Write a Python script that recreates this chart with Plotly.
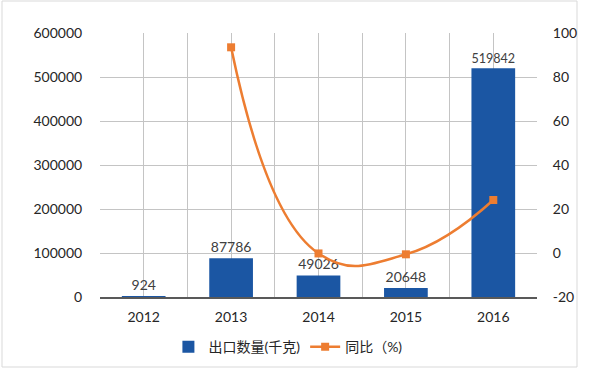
import plotly.graph_objects as go

years = ["2012", "2013", "2014", "2015", "2016"]
export_qty = [924, 87786, 49026, 20648, 519842]
yoy_years = ["2013", "2014", "2015", "2016"]
yoy = [93.5, -0.2, -0.6, 24.1]
y2_ticks = [-20, 0, 20, 40, 60, 80, 100]
y2_ticktext = ["-20", "0", "20", "40", "60", "80", "100"]

x_idx = list(range(len(years)))
yoy_idx = [years.index(y) for y in yoy_years]

FONT = "Lato, 'Noto Sans CJK SC', sans-serif"
BLUE = "#1B56A3"
ORANGE = "#ED7D31"
GRID = "#C4C4C4"

fig = go.Figure()
fig.add_trace(go.Bar(
    x=x_idx, y=export_qty, name="出口数量(千克)",
    marker=dict(color=BLUE, line=dict(width=0)),
    text=[str(v) for v in export_qty], textposition="outside",
    textfont=dict(size=14, color="#404040", family=FONT),
    cliponaxis=False, width=0.5,
))
fig.add_trace(go.Scatter(
    x=yoy_idx, y=yoy, name="同比（%)", yaxis="y2",
    mode="lines+markers",
    line=dict(color=ORANGE, width=2.5, shape="spline", smoothing=1.3),
    marker=dict(symbol="square", size=8, color=ORANGE),
))

fig.update_layout(
    width=600, height=369,
    margin=dict(l=100, r=63, t=33, b=72, autoexpand=False),
    paper_bgcolor="white", plot_bgcolor="white",
    font=dict(family=FONT, size=14, color="#262626"),
    showlegend=True,
    legend=dict(orientation="h", x=0.43, xanchor="center", y=-0.19, yanchor="middle",
                font=dict(size=14, color="#262626"), itemwidth=30),
    xaxis=dict(
        range=[-0.5, 4.5], tickvals=x_idx, ticktext=years,
        showgrid=True, gridcolor=GRID, gridwidth=1,
        minor=dict(tick0=-0.5, dtick=1, showgrid=True, gridcolor=GRID, gridwidth=1),
        showline=True, linecolor="#595959", linewidth=1.5,
        ticks="outside", ticklen=6, tickcolor="rgba(0,0,0,0)",
        zeroline=False, fixedrange=True, automargin=False,
    ),
    yaxis=dict(
        range=[0, 600000], dtick=100000, tickformat="d",
        showgrid=True, gridcolor=GRID, gridwidth=1, zeroline=False,
        ticks="outside", ticklen=14, tickcolor="rgba(0,0,0,0)",
        automargin=False,
    ),
    yaxis2=dict(
        range=[-20, 100], tickvals=y2_ticks, ticktext=y2_ticktext,
        overlaying="y", side="right",
        showgrid=False, zeroline=False,
        ticks="outside", ticklen=12, tickcolor="rgba(0,0,0,0)",
        automargin=False,
    ),
    shapes=[dict(type="rect", xref="paper", yref="paper",
                 x0=(2 - 100) / 437, x1=(577 - 100) / 437,
                 y0=(297 - 367) / 264, y1=(297 - 1) / 264,
                 line=dict(color="#D9D9D9", width=1), layer="below")],
)

fig.write_html("out.html", config={"displayModeBar": False},
               post_script="document.body.style.margin='0';")
